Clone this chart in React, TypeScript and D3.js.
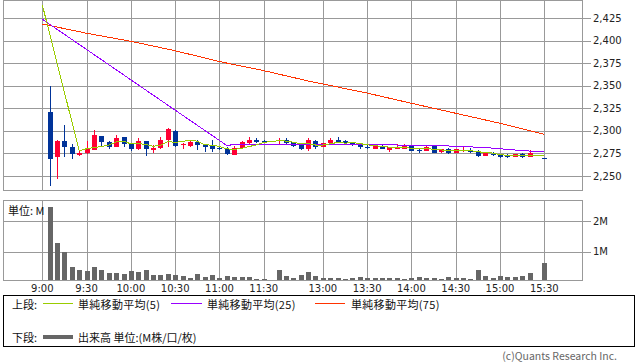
import React from "react";
import * as d3 from "d3";

// ---- data ----
const slots = [1,2,3,4,5,6,7,8,9,10,11,12,13,14,15,16,17,18,19,20,21,22,23,24,25,26,27,28,29,30,
  32,33,34,35,36,37,38,39,40,41,42,43,44,45,46,47,48,49,50,51,52,53,54,55,56,57,58,59,60,61,62,63,64,65,66,68];
const opens = [2321,2271,2289,2282,2273.5,2275.5,2279,2294.5,2287.5,2282.5,2293,2286,2280,2289,2279,2281,2290,2300,2284.5,2283.5,2288,2284.5,2283.5,2281.5,2280.5,2273,2281.5,2287,2290.5,2289.2,
  2289,2290,2287.5,2286.5,2280.5,2289,2282,2286.5,2290,2289,2287.5,2285,2282.7,2280.5,2283.5,2279,2280,2279.5,2283.5,2278.5,2278,2283.5,2276.5,2280.5,2276,2278.5,2279,2278,2272.5,2274.5,2274,2273.5,2271.5,2274,2271.5,2269.7];
const highs = [2350,2290,2307,2285.5,2278,2288.5,2301,2294.5,2289,2296,2293,2286,2292,2289,2284.5,2293,2303,2301,2287,2290,2290.5,2286,2290,2283.5,2282.5,2283.5,2289,2293.5,2292,2289.5,
  2292.5,2292,2288,2287,2292,2289.5,2286.5,2292.5,2293.5,2290,2288,2285,2285,2284.5,2284,2282,2285,2285.5,2284,2280.5,2284.5,2284,2280,2281,2279.5,2283,2281,2279,2275,2276.5,2274.5,2274,2274,2275,2279,2269.7];
const lows = [2239,2247,2271,2269,2272,2274,2278.5,2282,2279.5,2282,2282.5,2278,2279,2272.5,2275,2280,2282.5,2282,2279.5,2282,2279,2277,2277,2279,2273,2273,2279.5,2285.5,2286.5,2289,
  2285,2285.5,2282,2279,2278,2280.5,2282,2286,2287,2285,2283,2280.5,2279.5,2280.5,2279.5,2277,2279.5,2279.5,2278,2275,2278,2276,2275,2274,2276,2277,2276,2271.5,2272.5,2272.5,2269.5,2270.5,2271.5,2270.5,2271.5,2269.5];
const closes = [2269,2289,2282.5,2274,2275.5,2280.5,2295.5,2288,2282.5,2292,2285.5,2280,2289,2279.5,2281,2290,2302,2283.5,2285.5,2288,2284.5,2282.5,2280,2279.5,2274,2281.5,2288,2290.5,2288,2289,
  2290,2286.5,2283.5,2280,2290,2282,2286.5,2290.5,2287,2286.5,2284.5,2282,2282.3,2284.5,2279.5,2282,2280.7,2283.5,2278,2278,2282.5,2276,2280,2276,2279.5,2279,2276.5,2272.5,2275,2274,2271,2271.5,2274,2271,2276,2269.5];
const volumes = [2.47,1.29,1.0,0.51,0.40,0.37,0.51,0.40,0.32,0.32,0.27,0.37,0.35,0.40,0.24,0.24,0.27,0.24,0.21,0.14,0.27,0.18,0.24,0.14,0.21,0.18,0.18,0.18,0.11,0.10,
  0.40,0.21,0.14,0.24,0.34,0.21,0.14,0.14,0.14,0.11,0.14,0.18,0.14,0.14,0.14,0.14,0.14,0.11,0.14,0.18,0.14,0.14,0.11,0.18,0.14,0.14,0.11,0.40,0.21,0.14,0.21,0.18,0.18,0.21,0.30,0.63];

const sma5Slots = [0,5,6,7,8,9,10,11,12,13,14,15,16,17,18,19,20,21,22,23,24,25,26,27,28,29,30,
  32,33,34,35,36,37,38,39,40,41,42,43,44,45,46,47,48,49,50,51,52,53,54,55,56,57,58,59,60,61,62,63,64,65,66,68];
const sma5Values = [2440,2278,2280.3,2281.6,2282.7,2284.4,2287.7,2288.7,2285.6,2285.8,2285.2,2283,2283.9,2288.3,2287.2,2288.4,2289.8,2288.7,2284.8,2284.1,2282.9,2280.1,2279.5,2280.6,2282.7,2284.4,2287.4,
  2289.1,2288.8,2287.4,2285.8,2286,2284.4,2284.4,2285.8,2287.2,2286.5,2287,2286.1,2284.5,2284,2282.6,2282.1,2281.8,2282,2280.7,2280.4,2280.5,2279.6,2278.9,2278.5,2278.8,2278.1,2278.2,2276.7,2276.5,2275.4,2273.8,2272.8,2273.1,2272.3,2272.7,2272.4];
const sma25Slots = [0,25,26,30,36,41,47,52,55,58,61,63,66,68];
const sma25Values = [2424,2283.8,2285,2285,2285.3,2285.2,2284.5,2284,2283.3,2282.3,2281,2279.5,2277.7,2277];
const sma75Slots = [0,6,12,18,24,30,36,44,50,56,62,68];
const sma75Values = [2418.7,2408.4,2399.5,2389,2377,2366.9,2355.5,2342,2330.7,2319.6,2308.5,2296.3];

const priceTicks = [2250,2275,2300,2325,2350,2375,2400,2425];
const volumeTicks = [1,2];
const volumeTickLabels = ["1M","2M"];
const timeTickSlots = [0,6,12,18,24,30,38,44,50,56,62,68];
const timeTickLabels = ["9:00","9:30","10:00","10:30","11:00","11:30","13:00","13:30","14:00","14:30","15:00","15:30"];

const legendTop = ["単純移動平均(5)","単純移動平均(25)","単純移動平均(75)"];

// ---- style ----
const GRID = "#999999";
const UP = "#ff0033";
const DOWN = "#003399";
const C5 = "#99cc00";
const C25 = "#9900ff";
const C75 = "#ff3300";
const NUMFONT = "DejaVu Sans, sans-serif";
const JPFONT = "'Noto Sans CJK JP', sans-serif";

export default function App() {
  const L = 3.5, R = 582.5;
  const mainTop = 0.5, mainBottom = 190.5;
  const volTop = 200.5, volBottom = 280.5;

  const x = d3.scaleLinear().domain([0, 68]).range([42.3, 544.3]);
  const yP = d3.scaleLinear().domain([2250, 2425]).range([176, 18.3]);
  const yV = d3.scaleLinear().domain([0, 2]).range([282.4, 221]);
  const sx = (s: number) => Math.round(x(s)) + 0.5;

  const lineGen = (ys: number[], ss: number[]) =>
    d3.line<number>().x((_, i) => x(ss[i])).y((v) => yP(v))(ys) || "";

  const bodyW = 5;

  return (
    <svg width={638} height={362} style={{ position: "absolute", left: 0, top: 0, display: "block", background: "#fff" }}>
      <defs>
        <clipPath id="mainClip">
          <rect x={L} y={mainTop} width={R - L} height={mainBottom - mainTop} />
        </clipPath>
        <clipPath id="volClip">
          <rect x={L} y={volTop} width={R - L} height={volBottom - volTop} />
        </clipPath>
      </defs>

      {/* main panel grid */}
      <g shapeRendering="crispEdges" stroke={GRID} strokeWidth={1}>
        {priceTicks.map((p) => (
          <line key={p} x1={L} x2={R + 8} y1={Math.round(yP(p)) + 0.5} y2={Math.round(yP(p)) + 0.5} />
        ))}
        {timeTickSlots.map((s) => (
          <line key={"mv" + s} x1={sx(s)} x2={sx(s)} y1={mainTop} y2={mainBottom} />
        ))}
        <rect x={L} y={mainTop} width={R - L} height={mainBottom - mainTop} fill="none" />
      </g>
      {priceTicks.map((p) => (
        <text key={"pt" + p} x={593} y={yP(p)} dominantBaseline="central" fontFamily={NUMFONT} fontSize={10} fill="#222">
          {d3.format(",")(p)}
        </text>
      ))}

      {/* candles */}
      <g clipPath="url(#mainClip)" shapeRendering="crispEdges">
        {slots.map((s, i) => {
          const up = closes[i] > opens[i];
          const col = up ? UP : DOWN;
          const cx = sx(s);
          const top = Math.min(yP(opens[i]), yP(closes[i]));
          const h = Math.max(1, Math.abs(yP(opens[i]) - yP(closes[i])));
          return (
            <g key={"c" + s}>
              <line x1={cx} x2={cx} y1={yP(highs[i])} y2={yP(lows[i])} stroke={col} strokeWidth={1} />
              <rect x={cx - 0.5 - (bodyW - 1) / 2} y={top} width={bodyW} height={h} fill={col} />
            </g>
          );
        })}
      </g>

      {/* moving averages */}
      <g clipPath="url(#mainClip)" fill="none" strokeWidth={1} shapeRendering="crispEdges">
        <path d={lineGen(sma75Values, sma75Slots)} stroke={C75} />
        <path d={lineGen(sma25Values, sma25Slots)} stroke={C25} />
        <path d={lineGen(sma5Values, sma5Slots)} stroke={C5} />
      </g>

      {/* volume panel */}
      <g shapeRendering="crispEdges" stroke={GRID} strokeWidth={1}>
        {volumeTicks.map((v) => (
          <line key={"vg" + v} x1={L} x2={R + 8} y1={Math.round(yV(v)) + 0.5} y2={Math.round(yV(v)) + 0.5} />
        ))}
        {timeTickSlots.map((s) => (
          <line key={"vv" + s} x1={sx(s)} x2={sx(s)} y1={volTop} y2={volBottom} />
        ))}
      </g>
      <g clipPath="url(#volClip)" shapeRendering="crispEdges">
        {slots.map((s, i) => (
          <rect key={"v" + s} x={sx(s) - 0.5 - 2} y={yV(volumes[i])} width={5} height={Math.max(0, volBottom - yV(volumes[i]))} fill="#666666" />
        ))}
      </g>
      <rect x={L} y={volTop} width={R - L} height={volBottom - volTop} fill="none" stroke={GRID} shapeRendering="crispEdges" />
      {volumeTicks.map((v, i) => (
        <text key={"vt" + v} x={593} y={yV(v)} dominantBaseline="central" fontFamily={NUMFONT} fontSize={10} fill="#222">
          {volumeTickLabels[i]}
        </text>
      ))}
      <text x={8} y={210} dominantBaseline="central" fontFamily={JPFONT} fontSize={11} fill="#111">単位: M</text>

      {/* time axis */}
      {timeTickSlots.map((s, i) => (
        <text key={"tt" + s} x={x(s)} y={288} textAnchor="middle" dominantBaseline="central" fontFamily={NUMFONT} fontSize={10} fill="#222">
          {timeTickLabels[i]}
        </text>
      ))}

      {/* legend */}
      <rect x={3.5} y={295.5} width={631} height={50.5} fill="none" stroke="#000" shapeRendering="crispEdges" />
      <text x={12} y={303.5} dominantBaseline="central" fontFamily={JPFONT} fontSize={11} fill="#111">上段:</text>
      <line x1={43} x2={73} y1={303.5} y2={303.5} stroke={C5} shapeRendering="crispEdges" />
      <text x={78} y={303.5} dominantBaseline="central" fontFamily={JPFONT} fontSize={11} fill="#111" letterSpacing={0.3}>{legendTop[0]}</text>
      <line x1={171} x2={202} y1={303.5} y2={303.5} stroke={C25} shapeRendering="crispEdges" />
      <text x={207} y={303.5} dominantBaseline="central" fontFamily={JPFONT} fontSize={11} fill="#111" letterSpacing={0.3}>{legendTop[1]}</text>
      <line x1={315} x2={345} y1={303.5} y2={303.5} stroke={C75} shapeRendering="crispEdges" />
      <text x={351} y={303.5} dominantBaseline="central" fontFamily={JPFONT} fontSize={11} fill="#111" letterSpacing={0.3}>{legendTop[2]}</text>

      <text x={12} y={336.5} dominantBaseline="central" fontFamily={JPFONT} fontSize={11} fill="#111">下段:</text>
      <line x1={43} x2={73} y1={336.5} y2={336.5} stroke="#666666" strokeWidth={4} shapeRendering="crispEdges" />
      <text x={78} y={336.5} dominantBaseline="central" fontFamily={JPFONT} fontSize={11} fill="#111">出来高 単位:(M株/口/枚)</text>

      <text x={617} y={355} textAnchor="end" dominantBaseline="central" fontFamily={JPFONT} fontSize={10.5} fill="#666">(c)Quants Research Inc.</text>
    </svg>
  );
}
